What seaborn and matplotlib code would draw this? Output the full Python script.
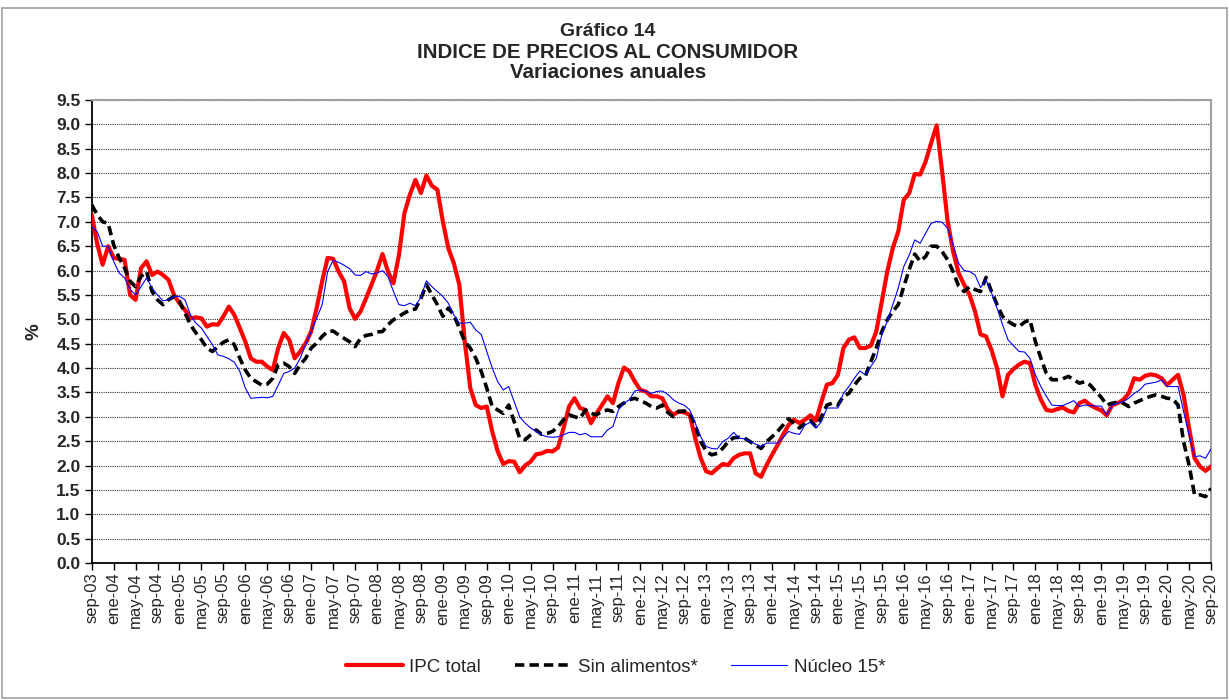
import numpy as np
import pandas as pd
import matplotlib
matplotlib.use("Agg")
import matplotlib.pyplot as plt
import seaborn as sns
from matplotlib.patches import Rectangle

# ---------------- data (annual % change, monthly, sep-03 .. sep-20) ----------------
ipc_total = [
    7.15, 6.55, 6.12, 6.50, 6.26, 6.24, 6.22, 5.50, 5.40, 6.05, 6.19, 5.91, 5.98,
    5.91, 5.81, 5.50, 5.33, 5.19, 5.02, 5.04, 5.02, 4.85, 4.90, 4.89, 5.06, 5.26,
    5.09, 4.82, 4.54, 4.20, 4.13, 4.13, 4.03, 3.96, 4.41, 4.72, 4.58, 4.20, 4.34,
    4.51, 4.75, 5.23, 5.78, 6.26, 6.24, 5.98, 5.78, 5.23, 5.01, 5.16, 5.43, 5.71,
    6.00, 6.34, 5.98, 5.74, 6.32, 7.18, 7.56, 7.86, 7.59, 7.95, 7.74, 7.66, 7.01,
    6.46, 6.15, 5.71, 4.54, 3.59, 3.24, 3.18, 3.21, 2.70, 2.29, 2.03, 2.09, 2.08,
    1.86, 2.00, 2.08, 2.23, 2.25, 2.30, 2.29, 2.37, 2.77, 3.21, 3.38, 3.18, 3.14,
    2.87, 3.07, 3.24, 3.42, 3.28, 3.69, 4.01, 3.93, 3.72, 3.55, 3.52, 3.42, 3.42,
    3.38, 3.15, 3.04, 3.11, 3.09, 3.04, 2.56, 2.15, 1.88, 1.84, 1.94, 2.03, 2.01,
    2.15, 2.22, 2.25, 2.25, 1.84, 1.77, 2.01, 2.22, 2.42, 2.63, 2.83, 2.94, 2.87,
    2.94, 3.03, 2.92, 3.31, 3.66, 3.69, 3.86, 4.41, 4.58, 4.63, 4.41, 4.41, 4.46,
    4.75, 5.37, 5.98, 6.46, 6.80, 7.45, 7.59, 7.98, 7.97, 8.24, 8.62, 8.98, 8.03,
    7.01, 6.39, 5.95, 5.71, 5.50, 5.16, 4.69, 4.65, 4.37, 4.00, 3.42, 3.86, 3.98,
    4.07, 4.13, 4.10, 3.65, 3.35, 3.14, 3.12, 3.16, 3.19, 3.12, 3.09, 3.28, 3.33,
    3.24, 3.18, 3.13, 3.03, 3.24, 3.28, 3.35, 3.48, 3.79, 3.76, 3.84, 3.87, 3.85,
    3.79, 3.65, 3.76, 3.86, 3.45, 2.77, 2.15, 1.98, 1.89, 1.98,
]

sin_alimentos = [
    7.35, 7.15, 7.00, 6.97, 6.53, 6.26, 6.05, 5.78, 5.67, 5.88, 5.98, 5.57, 5.40,
    5.30, 5.40, 5.47, 5.37, 5.13, 4.89, 4.72, 4.58, 4.41, 4.34, 4.44, 4.53, 4.58,
    4.48, 4.20, 3.96, 3.79, 3.72, 3.65, 3.67, 3.79, 4.07, 4.10, 4.03, 3.89, 4.07,
    4.20, 4.41, 4.51, 4.65, 4.75, 4.76, 4.68, 4.61, 4.54, 4.44, 4.61, 4.67, 4.69,
    4.74, 4.75, 4.89, 4.99, 5.06, 5.13, 5.19, 5.21, 5.43, 5.71, 5.50, 5.30, 5.06,
    5.23, 5.09, 4.82, 4.54, 4.41, 4.20, 3.93, 3.59, 3.21, 3.14, 3.07, 3.24, 2.90,
    2.56, 2.53, 2.63, 2.73, 2.64, 2.66, 2.70, 2.80, 2.94, 3.04, 3.00, 2.97, 3.14,
    3.07, 3.04, 3.11, 3.14, 3.11, 3.21, 3.28, 3.35, 3.38, 3.33, 3.28, 3.21, 3.18,
    3.24, 3.09, 3.00, 3.11, 3.12, 3.07, 2.83, 2.49, 2.29, 2.22, 2.25, 2.35, 2.49,
    2.57, 2.58, 2.56, 2.49, 2.42, 2.35, 2.49, 2.59, 2.70, 2.83, 2.96, 2.87, 2.77,
    2.87, 2.92, 2.80, 3.00, 3.24, 3.28, 3.24, 3.42, 3.48, 3.65, 3.79, 3.83, 4.13,
    4.41, 4.75, 4.99, 5.16, 5.30, 5.67, 6.02, 6.34, 6.19, 6.29, 6.50, 6.50, 6.39,
    6.22, 5.98, 5.68, 5.57, 5.67, 5.61, 5.57, 5.86, 5.57, 5.30, 5.06, 4.96, 4.89,
    4.85, 4.94, 4.99, 4.54, 4.20, 3.89, 3.76, 3.76, 3.78, 3.83, 3.76, 3.69, 3.72,
    3.65, 3.52, 3.40, 3.24, 3.28, 3.30, 3.28, 3.21, 3.28, 3.33, 3.38, 3.42, 3.45,
    3.42, 3.38, 3.37, 3.24, 2.49, 2.01, 1.40, 1.40, 1.36, 1.53,
]

nucleo_15 = [
    6.90, 6.80, 6.50, 6.50, 6.19, 5.95, 5.85, 5.61, 5.50, 5.67, 5.85, 5.64, 5.50,
    5.38, 5.40, 5.47, 5.47, 5.40, 5.09, 4.92, 4.82, 4.65, 4.48, 4.27, 4.24, 4.19,
    4.12, 3.93, 3.59, 3.38, 3.39, 3.40, 3.39, 3.42, 3.65, 3.89, 3.93, 4.00, 4.20,
    4.48, 4.75, 5.02, 5.30, 5.98, 6.21, 6.17, 6.11, 6.04, 5.91, 5.90, 5.98, 5.93,
    5.95, 6.00, 5.88, 5.57, 5.30, 5.28, 5.33, 5.28, 5.45, 5.79, 5.67, 5.57, 5.47,
    5.33, 5.09, 4.92, 4.92, 4.94, 4.78, 4.69, 4.34, 4.00, 3.72, 3.55, 3.62, 3.31,
    3.00, 2.87, 2.77, 2.70, 2.63, 2.59, 2.58, 2.59, 2.63, 2.68, 2.68, 2.63, 2.66,
    2.59, 2.59, 2.59, 2.73, 2.80, 3.14, 3.28, 3.35, 3.53, 3.55, 3.52, 3.48, 3.52,
    3.53, 3.46, 3.35, 3.28, 3.24, 3.14, 2.87, 2.59, 2.39, 2.35, 2.34, 2.49, 2.56,
    2.68, 2.56, 2.55, 2.49, 2.44, 2.39, 2.46, 2.46, 2.46, 2.57, 2.70, 2.66, 2.64,
    2.83, 2.89, 2.77, 2.90, 3.18, 3.18, 3.18, 3.48, 3.62, 3.79, 3.94, 3.86, 4.03,
    4.20, 4.68, 4.96, 5.30, 5.64, 6.08, 6.32, 6.63, 6.56, 6.77, 6.97, 7.01, 6.99,
    6.87, 6.53, 6.15, 6.00, 5.98, 5.91, 5.65, 5.81, 5.54, 5.23, 4.89, 4.58, 4.46,
    4.34, 4.33, 4.20, 3.86, 3.62, 3.42, 3.24, 3.23, 3.23, 3.28, 3.33, 3.21, 3.24,
    3.23, 3.22, 3.22, 3.04, 3.24, 3.28, 3.31, 3.38, 3.48, 3.55, 3.67, 3.69, 3.71,
    3.76, 3.62, 3.62, 3.62, 3.11, 2.63, 2.18, 2.20, 2.15, 2.34,
]

meses_es = ["ene", "feb", "mar", "abr", "may", "jun",
            "jul", "ago", "sep", "oct", "nov", "dic"]
fechas = pd.date_range("2003-09-01", "2020-09-01", freq="MS")
etiquetas = [f"{meses_es[d.month - 1]}-{d.year % 100:02d}" for d in fechas]

series_names = ["IPC total", "Sin alimentos*", "Núcleo 15*"]
y_ticks = [i * 0.5 for i in range(20)]

# ---------------- build long dataframe ----------------
t = np.arange(len(fechas))
df = pd.DataFrame({
    "t": np.tile(t, 3),
    "valor": np.concatenate([ipc_total, sin_alimentos, nucleo_15]),
    "serie": np.repeat(series_names, len(t)),
})

sns.set_style("white")
plt.rcParams["font.family"] = ["Liberation Sans", "DejaVu Sans"]

fig = plt.figure(figsize=(12.29, 7.0), dpi=100)
ax = fig.add_axes([91.7 / 1229, 1 - 563 / 700, (1211 - 91.7) / 1229, (563 - 100) / 700])

palette = {"IPC total": "#FF0000", "Sin alimentos*": "#000000", "Núcleo 15*": "#0000FF"}
widths = {"IPC total": 3.0, "Sin alimentos*": 2.6, "Núcleo 15*": 0.8}

for i, name in enumerate(series_names):
    sub = df[df["serie"] == name]
    sns.lineplot(data=sub, x="t", y="valor", color=palette[name],
                 linewidth=widths[name], ax=ax, label=name, zorder=3 + i,
                 legend=False)
    if name == "Sin alimentos*":
        ax.lines[-1].set_dashes([2.6, 1.4])
        ax.lines[-1].set_dash_capstyle("butt")

# axes & grid
ax.set_xlim(0, len(t) - 1)
ax.set_ylim(0, 9.5)
ax.set_yticks(y_ticks)
ax.set_yticklabels([f"{v:.1f}" for v in y_ticks], fontsize=12.5, fontweight="bold")
tick_pos = t[::4]
ax.set_xticks(tick_pos)
ax.set_xticklabels([etiquetas[k] for k in tick_pos], rotation=90, fontsize=12)
ax.tick_params(axis="both", direction="out", length=5, width=1, color="black",
               left=True, bottom=True, pad=3)
ax.tick_params(axis="x", pad=2)
for yv in y_ticks[1:]:
    ax.axhline(yv, color="#333333", linewidth=0.8, linestyle=(0, (1, 1)), zorder=1)

for side in ["left", "bottom"]:
    ax.spines[side].set_color("black")
    ax.spines[side].set_linewidth(1.3)
for side in ["top", "right"]:
    ax.spines[side].set_color("#a0a0a0")
    ax.spines[side].set_linewidth(1.5)

ax.set_xlabel("")
ax.set_ylabel("%", fontsize=13.5, fontweight="bold", labelpad=10)

# title
fig.text(608 / 1229, 1 - 31 / 700, "Gráfico 14", ha="center", va="center",
         fontsize=14, fontweight="bold")
fig.text(608 / 1229, 1 - 52 / 700, "INDICE DE PRECIOS AL CONSUMIDOR", ha="center",
         va="center", fontsize=14.8, fontweight="bold")
fig.text(608 / 1229, 1 - 72 / 700, "Variaciones anuales", ha="center", va="center",
         fontsize=14.8, fontweight="bold")

# legend
handles = ax.lines[:3]
leg = fig.legend(handles, series_names, loc="center",
                 bbox_to_anchor=(616 / 1229, 1 - 667 / 700), ncol=3, frameon=False,
                 fontsize=13.5, handlelength=3.0, handletextpad=0.35, columnspacing=1.8)

# chart-area border
fig.patches.append(Rectangle((2 / 1229, 2 / 700), 1 - 4 / 1229, 1 - 10 / 700,
                             transform=fig.transFigure, fill=False,
                             edgecolor="#a0a0a0", linewidth=1.2))

fig.savefig("out.png", dpi=100)
